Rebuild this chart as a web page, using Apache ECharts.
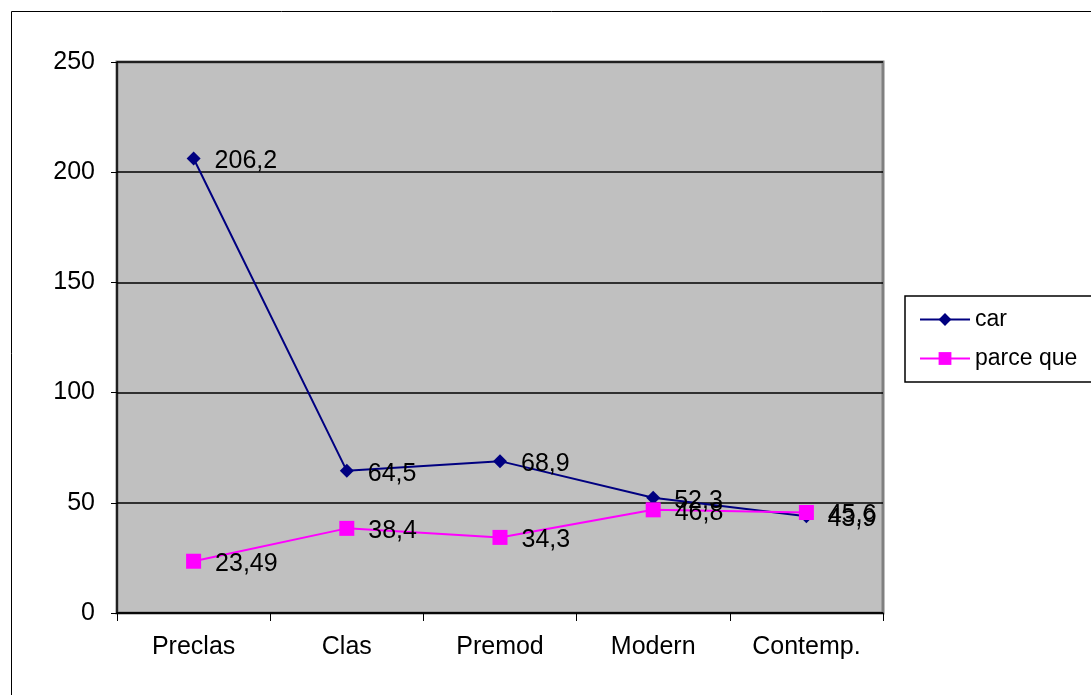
<!DOCTYPE html>
<html><head><meta charset="utf-8">
<script src="https://cdn.jsdelivr.net/npm/echarts@6/dist/echarts.min.js"></script>
<style>html,body{margin:0;padding:0;background:#fff}#c{width:1091px;height:695px}</style>
</head><body><div id="c"></div>
<script>
const categories = ['Preclas', 'Clas', 'Premod', 'Modern', 'Contemp.'];
const carValues = [206.2, 64.5, 68.9, 52.3, 43.9];
const parceQueValues = [23.49, 38.4, 34.3, 46.8, 45.6];
const seriesNames = ['car', 'parce que'];

const font = 'Liberation Sans, Arial, sans-serif';
const fmt = p => String(p.value).replace('.', ',');
const chart = echarts.init(document.getElementById('c'));
chart.setOption({
  animation: false,
  backgroundColor: '#fff',
  textStyle: { fontFamily: font },
  graphic: [{
    type: 'rect', shape: { x: 11.5, y: 11.5, width: 1200, height: 800 },
    style: { fill: 'none', stroke: '#000', lineWidth: 1 }, z: -1
  }],
  grid: {
    left: 117, top: 62, width: 766, height: 551,
    show: true, backgroundColor: '#C0C0C0', borderColor: '#808080', borderWidth: 3
  },
  legend: {
    orient: 'vertical', left: 905, top: 296,
    data: seriesNames,
    itemWidth: 50, itemHeight: 16, itemGap: 16,
    padding: [12, 40, 12, 14],
    borderColor: '#000', borderWidth: 1.5, backgroundColor: '#fff',
    textStyle: { fontFamily: font, fontSize: 23, color: '#000' }
  },
  xAxis: {
    type: 'category', data: categories, boundaryGap: true,
    axisLine: { lineStyle: { color: '#000', width: 1.5 } },
    axisTick: { show: true, length: 8, lineStyle: { color: '#000' } },
    axisLabel: { fontFamily: font, fontSize: 25, color: '#000', margin: 22 },
    splitLine: { show: false }
  },
  yAxis: {
    type: 'value', min: 0, max: 250, interval: 50,
    axisLine: { show: true, lineStyle: { color: '#000', width: 1.5 } },
    axisTick: { show: true, length: 6, lineStyle: { color: '#000' } },
    axisLabel: { fontFamily: font, fontSize: 25, color: '#000', margin: 22 },
    splitLine: { show: true, lineStyle: { color: '#000', width: 1.5 } }
  },
  series: [{
    name: seriesNames[0], type: 'line', data: carValues,
    symbol: 'diamond', symbolSize: 14,
    lineStyle: { color: '#000080', width: 2 },
    itemStyle: { color: '#000080' },
    label: { show: true, position: 'right', distance: 14, offset: [0, 3], formatter: fmt,
      fontFamily: font, fontSize: 25, color: '#000' }
  }, {
    name: seriesNames[1], type: 'line', data: parceQueValues,
    symbol: 'rect', symbolSize: 15,
    lineStyle: { color: '#FF00FF', width: 2 },
    itemStyle: { color: '#FF00FF' },
    label: { show: true, position: 'right', distance: 14, offset: [0, 3], formatter: fmt,
      fontFamily: font, fontSize: 25, color: '#000' }
  }]
});
</script></body></html>
